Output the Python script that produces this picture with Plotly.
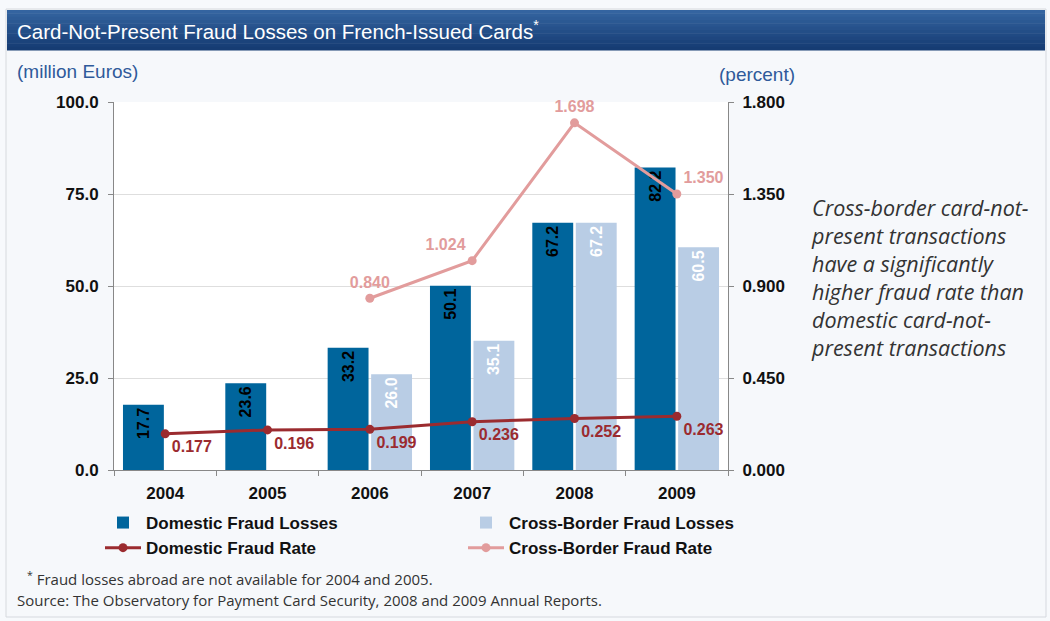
import plotly.graph_objects as go

years = ["2004", "2005", "2006", "2007", "2008", "2009"]
domestic_losses = [17.7, 23.6, 33.2, 50.1, 67.2, 82.2]
cross_losses = [None, None, 26.0, 35.1, 67.2, 60.5]
domestic_rate = [0.177, 0.196, 0.199, 0.236, 0.252, 0.263]
cross_rate = [None, None, 0.840, 1.024, 1.698, 1.350]

W, H = 1050, 621
L, R, T, B = 114, 728, 102, 470

def px(x):
    return (x - L) / (R - L)

def py(y):
    return (B - y) / (B - T)

AX_FONT = dict(size=17, family="Liberation Sans", color="#111111", weight="bold")

fig = go.Figure()

fig.add_trace(go.Bar(
    x=years, y=domestic_losses, name="Domestic Fraud Losses",
    marker=dict(color="#00659c", line=dict(width=0)),
    text=[f"{v:.1f}" for v in domestic_losses], textposition="inside",
    insidetextanchor="end", textangle=-90,
    textfont=dict(color="black", size=16, family="Liberation Sans", weight="bold"),
))
fig.add_trace(go.Bar(
    x=years, y=cross_losses, name="Cross-Border Fraud Losses",
    marker=dict(color="#b9cde5", line=dict(width=0)),
    text=[f"{v:.1f}" if v is not None else "" for v in cross_losses], textposition="inside",
    insidetextanchor="end", textangle=-90,
    textfont=dict(color="white", size=16, family="Liberation Sans", weight="bold"),
))
fig.add_trace(go.Scatter(
    x=years, y=domestic_rate, name="Domestic Fraud Rate", yaxis="y2",
    mode="lines+markers+text", line=dict(color="#9b2b2f", width=3),
    marker=dict(size=9, color="#9b2b2f"),
    text=[f"{v:.3f}" for v in domestic_rate],
    textposition="bottom right",
    textfont=dict(color="#9b2b2f", size=16, family="Liberation Sans", weight="bold"),
    cliponaxis=False,
))
fig.add_trace(go.Scatter(
    x=years, y=cross_rate, name="Cross-Border Fraud Rate", yaxis="y2",
    mode="lines+markers+text", line=dict(color="#e29c9c", width=3),
    marker=dict(size=9, color="#e29c9c"),
    text=[f"{v:.3f}" if v is not None else "" for v in cross_rate],
    textposition=["top center", "top center", "top center", "top left", "top center", "top right"],
    textfont=dict(color="#e29c9c", size=16, family="Liberation Sans", weight="bold"),
    cliponaxis=False,
))

shapes = []
# outer frame
shapes.append(dict(type="rect", xref="paper", yref="paper",
                   x0=px(6), x1=px(1046), y0=py(617), y1=py(9),
                   line=dict(color="#d6d9de", width=1), fillcolor="#f6f8fb", layer="below"))
# title banner gradient
n = 12
c_top = (52, 100, 160)
c_bot = (22, 60, 115)
for i in range(n):
    t = i / (n - 1)
    c = tuple(int(c_top[k] + (c_bot[k] - c_top[k]) * t) for k in range(3))
    y0 = 10 + 40 * i / n
    y1 = 10 + 40 * (i + 1) / n
    shapes.append(dict(type="rect", xref="paper", yref="paper",
                       x0=px(7), x1=px(1045), y0=py(y1 + 0.5), y1=py(y0),
                       line=dict(width=0), fillcolor="rgb(%d,%d,%d)" % c, layer="below"))
# white plot area
shapes.append(dict(type="rect", xref="paper", yref="paper", x0=0, x1=1, y0=0, y1=1,
                   line=dict(width=0), fillcolor="white", layer="below"))

annotations = [
    dict(text="Card-Not-Present Fraud Losses on French-Issued Cards<sup>*</sup>",
         xref="paper", yref="paper", x=px(15), y=py(30), xanchor="left", yanchor="middle",
         showarrow=False, font=dict(color="white", size=20.5, family="Liberation Sans")),
    dict(text="(million Euros)", xref="paper", yref="paper", x=px(15), y=py(72),
         xanchor="left", yanchor="middle", showarrow=False,
         font=dict(color="#2f5a9a", size=19, family="Liberation Sans")),
    dict(text="(percent)", xref="paper", yref="paper", x=px(717), y=py(75),
         xanchor="left", yanchor="middle", showarrow=False,
         font=dict(color="#2f5a9a", size=19, family="Liberation Sans")),
    dict(text="<i>Cross-border card-not-<br>present transactions<br>have a significantly<br>higher fraud rate than<br>domestic card-not-<br>present transactions</i>",
         xref="paper", yref="paper", x=px(809), y=py(277), xanchor="left", yanchor="middle",
         align="left", showarrow=False,
         font=dict(color="#333333", size=21.5, family="Open Sans")),
    dict(text="<sup>*</sup> Fraud losses abroad are not available for 2004 and 2005.",
         xref="paper", yref="paper", x=px(25), y=py(578), xanchor="left", yanchor="middle",
         showarrow=False, font=dict(color="#333333", size=15, family="Open Sans")),
    dict(text="Source: The Observatory for Payment Card Security, 2008 and 2009 Annual Reports.",
         xref="paper", yref="paper", x=px(15), y=py(600), xanchor="left", yanchor="middle",
         showarrow=False, font=dict(color="#333333", size=15, family="Open Sans")),
]

fig.update_layout(
    width=W, height=H,
    margin=dict(l=L, r=W - R, t=T, b=H - B, pad=0),
    paper_bgcolor="#f7f9fc", plot_bgcolor="white",
    barmode="group", bargap=0.15, bargroupgap=0.06,
    showlegend=True,
    legend=dict(orientation="h", x=px(100), y=py(505), xanchor="left", yanchor="top",
                entrywidth=312, entrywidthmode="pixels", traceorder="normal",
                font=dict(size=17, family="Liberation Sans", color="#111111", weight="bold"),
                bgcolor="rgba(0,0,0,0)", itemwidth=36, tracegroupgap=0),
    xaxis=dict(type="category", showline=True, linecolor="#888888", linewidth=1,
               ticks="outside", ticklen=5, tickcolor="#888888",
               tickfont=AX_FONT,
               ticklabelstandoff=8, showgrid=False, zeroline=False, tickson="boundaries"),
    yaxis=dict(range=[0, 100], tickvals=[0, 25, 50, 75, 100],
               ticktext=["0.0", "25.0", "50.0", "75.0", "100.0"],
               showline=True, linecolor="#888888", linewidth=1, ticks="outside", ticklen=5,
               tickcolor="#888888", showgrid=True, gridcolor="#dedede", zeroline=False,
               tickfont=AX_FONT, ticklabelstandoff=6),
    yaxis2=dict(range=[0, 1.8], tickvals=[0, 0.45, 0.9, 1.35, 1.8],
                ticktext=["0.000", "0.450", "0.900", "1.350", "1.800"],
                overlaying="y", side="right", showline=True, linecolor="#888888", linewidth=1,
                ticks="outside", ticklen=5, tickcolor="#888888", showgrid=False, zeroline=False,
                tickfont=AX_FONT, ticklabelstandoff=5),
    shapes=shapes, annotations=annotations,
)

fig.write_html("out.html", config={"displayModeBar": False},
               post_script="document.body.style.margin='0px';")
